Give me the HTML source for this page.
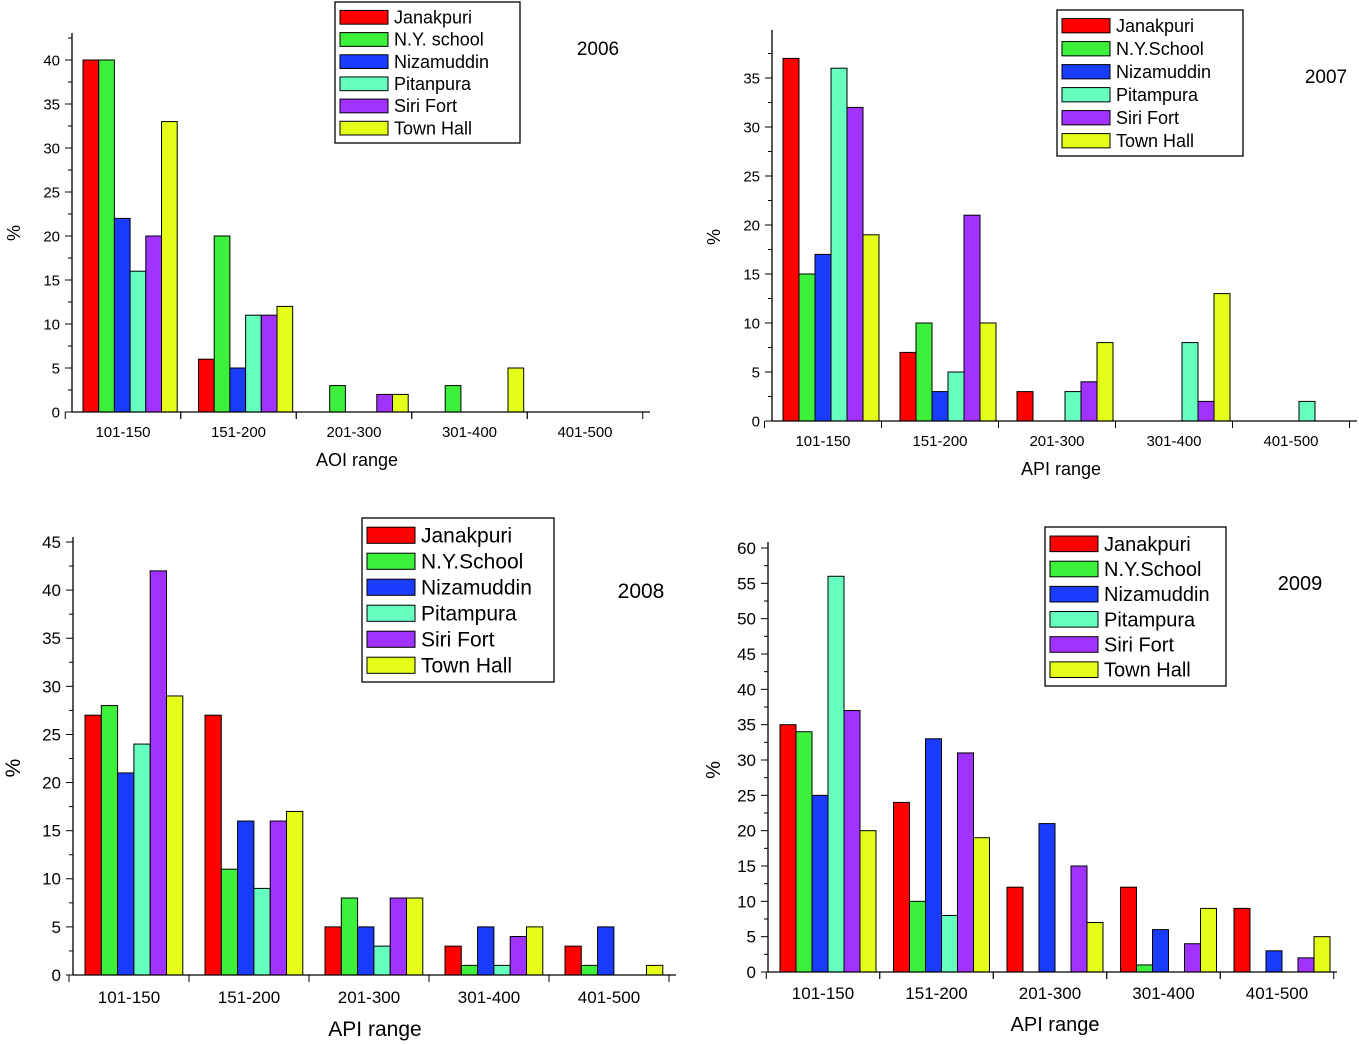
<!DOCTYPE html>
<html><head><meta charset="utf-8"><style>
body{margin:0;background:#fff}
svg{display:block;font-family:"Liberation Sans",Arial,sans-serif}
</style></head><body>
<svg id="c" width="1359" height="1044" xmlns="http://www.w3.org/2000/svg"></svg>
<script>
const categories = ["101-150","151-200","201-300","301-400","401-500"];
const stations2006 = ["Janakpuri","N.Y. school","Nizamuddin","Pitanpura","Siri Fort","Town Hall"];
const stationsOther = ["Janakpuri","N.Y.School","Nizamuddin","Pitampura","Siri Fort","Town Hall"];
const yTicks2006 = [0,5,10,15,20,25,30,35,40];
const yTicks2007 = [0,5,10,15,20,25,30,35];
const yTicks2008 = [0,5,10,15,20,25,30,35,40,45];
const yTicks2009 = [0,5,10,15,20,25,30,35,40,45,50,55,60];
const data2006 = [[40,6,0,0,0],[40,20,3,3,0],[22,5,0,0,0],[16,11,0,0,0],[20,11,2,0,0],[33,12,2,5,0]];
const data2007 = [[37,7,3,0,0],[15,10,0,0,0],[17,3,0,0,0],[36,5,3,8,2],[32,21,4,2,0],[19,10,8,13,0]];
const data2008 = [[27,27,5,3,3],[28,11,8,1,1],[21,16,5,5,5],[24,9,3,1,0],[42,16,8,4,0],[29,17,8,5,1]];
const data2009 = [[35,24,12,12,9],[34,10,0,1,0],[25,33,21,6,3],[56,8,0,0,0],[37,31,15,4,2],[20,19,7,9,5]];
const colors = ["#ff0000","#3cf03c","#1a3cff","#66ffc0","#a033ff","#e6ff1a"];

const NS="http://www.w3.org/2000/svg";
const svg=document.getElementById('c');
function mk(tag,attrs,parent){const e=document.createElementNS(NS,tag);for(const k in attrs)e.setAttribute(k,attrs[k]);(parent||svg).appendChild(e);return e;}

const panels=[
 {id:"2006",data:data2006,names:stations2006,ticks:yTicks2006,x0:72,x1:650,yTop:33,y0:412,yRef:60,vRef:40,c0:123,sp:115.5,off:40,bw:15.7,xl:"AOI range",xly:466,xlx:357,tly:437,fs:15,xfs:18,title:[598,55],tfs:19,leg:[335,2,185,141],lfs:18,yl:[14,233]},
 {id:"2007",data:data2007,names:stationsOther,ticks:yTicks2007,x0:772,x1:1357,yTop:30,y0:421,yRef:78,vRef:35,c0:823,sp:117,off:40,bw:16,xl:"API range",xly:475,xlx:1061,tly:446,fs:15,xfs:18,title:[1326,83],tfs:19,leg:[1057,10,186,146],lfs:18,yl:[714,237]},
 {id:"2008",data:data2008,names:stationsOther,ticks:yTicks2008,x0:73,x1:676,yTop:537,y0:975,yRef:542,vRef:45,c0:129,sp:120,off:44,bw:16.3,xl:"API range",xly:1036,xlx:375,tly:1003,fs:17,xfs:21,title:[641,598],tfs:21,leg:[362,518,192,164],lfs:21,yl:[14,768]},
 {id:"2009",data:data2009,names:stationsOther,ticks:yTicks2009,x0:768,x1:1337,yTop:542,y0:972,yRef:548,vRef:60,c0:823,sp:113.5,off:43,bw:16,xl:"API range",xly:1031,xlx:1055,tly:999,fs:17,xfs:20,title:[1300,590],tfs:20,leg:[1045,527,181,159],lfs:20,yl:[714,770]}
];

panels.forEach(p=>{
 const g=mk('g',{});
 
 
 const ys=v=>p.y0-(p.y0-p.yRef)*v/p.vRef;
 const half=(p.y0-ys(p.ticks[1]-p.ticks[0]))/2;
 // bars
 p.data.forEach((series,si)=>{
  series.forEach((v,ci)=>{
   if(v<=0)return;
   const x=p.c0+ci*p.sp-p.off+si*p.bw;
   const r=mk('rect',{x:x,y:ys(v),width:p.bw,height:p.y0-ys(v),fill:colors[si],stroke:"#000","stroke-width":1},g);
   
   
  });
 });
 // axes
 const ya=mk('line',{x1:p.x0,y1:p.yTop,x2:p.x0,y2:p.y0,stroke:"#000","stroke-width":1.3},g);
 
 
 const xa=mk('line',{x1:p.x0,y1:p.y0,x2:p.x1,y2:p.y0,stroke:"#000","stroke-width":1.3},g);
 
 
 p.ticks.forEach((t,i)=>{
  const y=ys(t);
  mk('line',{x1:p.x0-7,y1:y,x2:p.x0,y2:y,stroke:"#000"},g);
  if(i<p.ticks.length-1){const ym=(y+ys(p.ticks[i+1]))/2;mk('line',{x1:p.x0-4,y1:ym,x2:p.x0,y2:ym,stroke:"#000"},g);}
  const tl=mk('text',{x:p.x0-12,y:y+p.fs*0.35,"text-anchor":"end","font-size":p.fs},g);
  tl.textContent=t;
  
  
 });
 // minor tick above top major
 const lastY=ys(p.ticks[p.ticks.length-1]);
 if(lastY-half>p.yTop)mk('line',{x1:p.x0-4,y1:lastY-half,x2:p.x0,y2:lastY-half,stroke:"#000"},g);
 categories.forEach((c,ci)=>{
  const cx=p.c0+ci*p.sp;
  const bx=cx-p.sp/2;
  mk('line',{x1:bx,y1:p.y0,x2:bx,y2:p.y0+7,stroke:"#000"},g);
  mk('line',{x1:bx+p.sp,y1:p.y0,x2:bx+p.sp,y2:p.y0+7,stroke:"#000"},g);
  const tl=mk('text',{x:cx,y:p.tly,"text-anchor":"middle","font-size":p.fs},g);
  tl.textContent=c;
  
  
 });
 const xt=mk('text',{x:p.xlx,y:p.xly,"text-anchor":"middle","font-size":p.xfs},g);
 xt.textContent=p.xl;
 
 
 const yt=mk('text',{x:p.yl[0],y:p.yl[1],"text-anchor":"middle","font-size":p.xfs,transform:`rotate(-90 ${p.yl[0]} ${p.yl[1]})`,dy:6},g);
 yt.textContent="%";
 
 
 const tt=mk('text',{x:p.title[0],y:p.title[1],"text-anchor":"middle","font-size":p.tfs},g);
 tt.textContent=p.id;
 
 
 // legend
 const [lx,ly,lw,lh]=p.leg;
 const lg=mk('g',{},g);
 
 
 mk('rect',{x:lx,y:ly,width:lw,height:lh,fill:"#fff",stroke:"#000","stroke-width":1.3},lg);
 const rh=(lh-8)/6;
 p.names.forEach((n,i)=>{
  const yy=ly+4+i*rh;
  const e=mk('g',{},lg);
  
  
  mk('rect',{x:lx+5,y:yy+rh*0.2,width:48,height:rh*0.62,fill:colors[i],stroke:"#000"},e);
  const t=mk('text',{x:lx+59,y:yy+rh*0.5+p.lfs*0.36,"font-size":p.lfs},e);
  t.textContent=n;
 });
});
</script>
</body></html>
